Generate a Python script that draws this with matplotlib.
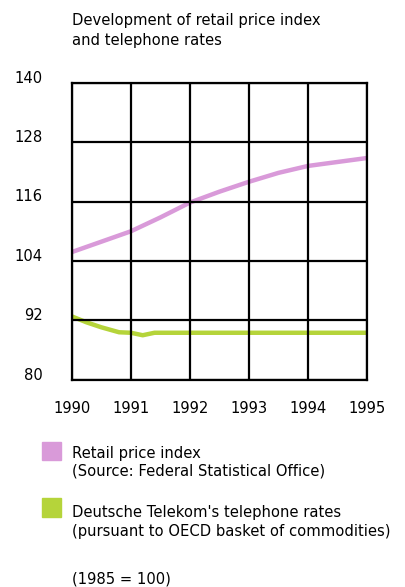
import matplotlib
matplotlib.use("Agg")
import matplotlib.pyplot as plt
from matplotlib.patches import Rectangle
from matplotlib.transforms import ScaledTranslation

# values (1985 = 100)
retail_years = [1990, 1990.5, 1991, 1991.5, 1992, 1992.5, 1993, 1993.5, 1994, 1994.5, 1995]
retail_index = [105.8, 107.9, 110.0, 112.8, 115.8, 118.0, 120.0, 121.8, 123.2, 124.0, 124.8]

phone_years = [1990, 1990.25, 1990.5, 1990.8, 1991, 1991.2, 1991.4, 1992, 1993, 1994, 1995]
phone_rates = [92.8, 91.6, 90.6, 89.6, 89.5, 89.0, 89.5, 89.5, 89.5, 89.5, 89.5]

x_ticks = [1990, 1991, 1992, 1993, 1994, 1995]
y_ticks = [80, 92, 104, 116, 128, 140]

pink = "#d99ad9"
green = "#b5d43a"
fs = 10.6

fig = plt.figure(figsize=(4.06, 5.87), dpi=100)
ax = fig.add_axes([0.177, 0.353, 0.727, 0.506])

ax.plot(retail_years, retail_index, color=pink, lw=3.2, solid_capstyle="butt")
ax.plot(phone_years, phone_rates, color=green, lw=3.2, solid_capstyle="butt")

ax.set_xlim(1990, 1995)
ax.set_ylim(80, 140)
ax.set_xticks(x_ticks)
ax.set_yticks(y_ticks)
ax.set_xticklabels([str(y) for y in x_ticks], fontsize=fs)
ax.set_yticklabels([str(v) for v in y_ticks], fontsize=fs)
ax.grid(True, color="black", lw=1.6)
ax.set_axisbelow(False)
ax.tick_params(length=0)
ax.tick_params(axis="y", pad=21)
ax.tick_params(axis="x", pad=15)
for lab in ax.get_yticklabels():
    lab.set_transform(lab.get_transform() + ScaledTranslation(0, 4.5 / 72, fig.dpi_scale_trans))
for sp in ax.spines.values():
    sp.set_linewidth(1.6)

fig.text(0.177, 1 - 30.5 / 587, "Development of retail price index\nand telephone rates",
         fontsize=fs, va="center", ha="left", linespacing=1.5)

# legend
fig.patches.append(Rectangle((42 / 406, 1 - 460 / 587), 19 / 406, 18 / 587,
                             transform=fig.transFigure, color=pink))
fig.patches.append(Rectangle((42 / 406, 1 - 517 / 587), 19 / 406, 19 / 587,
                             transform=fig.transFigure, color=green))
fig.text(72 / 406, 1 - 462.5 / 587, "Retail price index\n(Source: Federal Statistical Office)",
         fontsize=fs, va="center", ha="left", linespacing=1.25)
fig.text(72 / 406, 1 - 522 / 587,
         "Deutsche Telekom's telephone rates\n(pursuant to OECD basket of commodities)",
         fontsize=fs, va="center", ha="left", linespacing=1.3)
fig.text(72 / 406, 1 - 579 / 587, "(1985 = 100)", fontsize=fs, va="center", ha="left")

fig.savefig("out.png", dpi=100)
